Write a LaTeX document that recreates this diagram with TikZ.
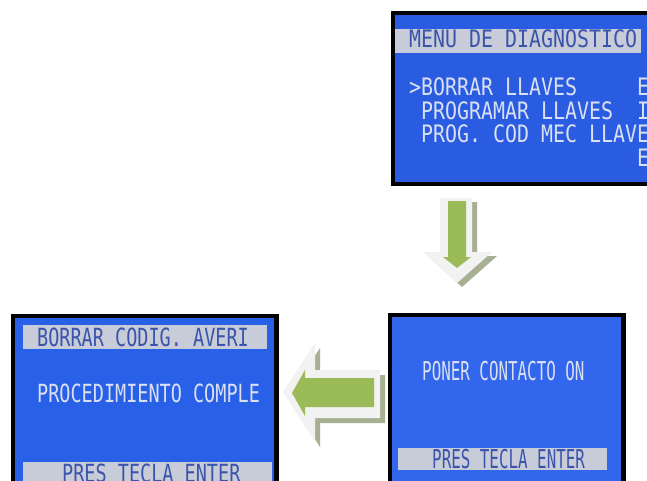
\documentclass[tikz,border=0pt]{standalone}
\usepackage{fontspec}
% dot-matrix style LCD lettering: a monospaced face squeezed horizontally
\newfontfamily\lcdA[FakeStretch=0.83]{DejaVu Sans Mono}
\newfontfamily\lcdB[FakeStretch=0.61]{DejaVu Sans Mono}
\newfontfamily\lcdC[FakeStretch=0.74]{DejaVu Sans Mono}
\definecolor{lcdblueA}{RGB}{42,92,226}
\definecolor{lcdblueB}{RGB}{50,102,236}
\definecolor{lcdblueC}{RGB}{40,96,232}
\definecolor{lcdfg}{RGB}{218,224,242}
\definecolor{lcdbar}{RGB}{200,204,216}
\definecolor{lcdbarfg}{RGB}{58,84,172}
\definecolor{arrowgreen}{RGB}{155,187,89}
\definecolor{arrowrim}{RGB}{242,242,242}
\definecolor{arrowshade}{RGB}{168,176,148}
\tikzset{
  lcdtext/.style={anchor=base west, inner sep=0pt, text=lcdfg},
  bartext/.style={anchor=base west, inner sep=0pt, text=lcdbarfg},
  fontA/.style={font=\lcdA\fontsize{24}{24}\selectfont},
  fontB/.style={font=\lcdB\fontsize{26}{26}\selectfont},
  fontC/.style={font=\lcdC\fontsize{25}{25}\selectfont},
}
\begin{document}
\begin{tikzpicture}[x=1pt,y=-1pt]
\useasboundingbox (0,0) rectangle (647,481);
\fill[white] (0,0) rectangle (647,481);
\clip (0,0) rectangle (647,481);

% ---- diagnostic menu screen (top right) ----
\fill[black] (391,11) rectangle (660,186);
\fill[lcdblueA] (395,15) rectangle (660,182);
\fill[lcdbar] (395,29) rectangle (641,53);
\node[bartext, fontA] (menuhead) at (409,48) {MENU DE DIAGNOSTICO};
\node[lcdtext, fontA] (menu1) at (409,96) {>BORRAR LLAVES};
\node[lcdtext, fontA] (menu1r) at (637,96) {E};
\node[lcdtext, fontA] (menu2) at (421,119.5) {PROGRAMAR LLAVES};
\node[lcdtext, fontA] (menu2r) at (637,119.5) {I};
\node[lcdtext, fontA] (menu3) at (421,143) {PROG. COD MEC LLAVE};
\node[lcdtext, fontA] (menu4r) at (637,166.5) {E};

% ---- ignition prompt screen (bottom right) ----
\fill[black] (388,313) rectangle (626,490);
\fill[lcdblueB] (392,317) rectangle (621,490);
\node[lcdtext, fontB] (prompt) at (422,380) {PONER CONTACTO ON};
\fill[lcdbar] (398,448) rectangle (607,470);
\node[bartext, fontB] (promptkey) at (432,468) {PRES TECLA ENTER};

% ---- finished procedure screen (bottom left) ----
\fill[black] (11,314) rectangle (279,490);
\fill[lcdblueC] (15,318) rectangle (274,490);
\fill[lcdbar] (23,325) rectangle (267,349);
\node[bartext, fontC] (donehead) at (37,346) {BORRAR CODIG. AVERI};
\node[lcdtext, fontC] (donemsg) at (37,402) {PROCEDIMIENTO COMPLE};
\fill[lcdbar] (23,462) rectangle (272,490);
\node[bartext, fontC] (donekey) at (62,482) {PRES TECLA ENTER};

% ---- block arrow pointing down ----
\fill[arrowshade, shift={(5,4)}] (440,198) -- (472,198) -- (472,252) -- (492,252)
  -- (457,283) -- (423,252) -- (440,252) -- cycle;
\fill[arrowrim] (440,198) -- (472,198) -- (472,252) -- (492,252)
  -- (457,283) -- (423,252) -- (440,252) -- cycle;
\fill[arrowgreen] (448,201) -- (466,201) -- (466,257) -- (471,257)
  -- (457,268) -- (443,257) -- (448,257) -- cycle;

% ---- block arrow pointing left ----
\fill[arrowshade, shift={(5,5)}] (283,392) -- (315,343) -- (315,370) -- (380,370)
  -- (380,418) -- (315,418) -- (315,442) -- cycle;
\fill[arrowrim] (283,392) -- (315,343) -- (315,370) -- (380,370)
  -- (380,418) -- (315,418) -- (315,442) -- cycle;
\fill[arrowgreen] (292,393) -- (305,370) -- (305,378) -- (374,378)
  -- (374,407) -- (305,407) -- (305,416) -- cycle;
\end{tikzpicture}
\end{document}
